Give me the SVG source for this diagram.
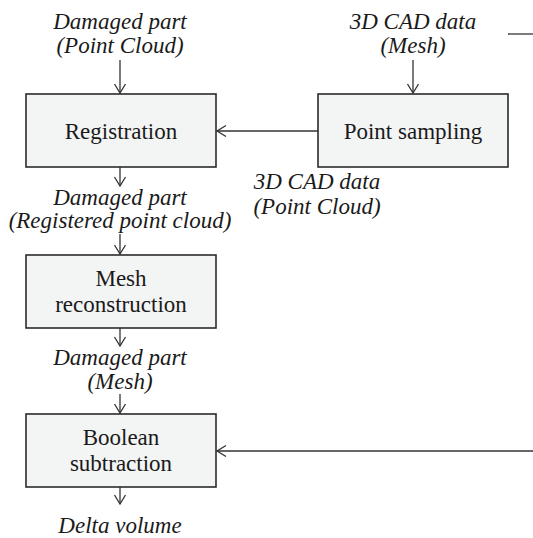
<svg xmlns="http://www.w3.org/2000/svg" width="533" height="538" viewBox="0 0 533 538">
<style>
.box{fill:#f3f4f4;stroke:#2b2b2b;stroke-width:1.6}
text{font-family:'Liberation Serif','Times New Roman',serif;font-size:23px;fill:#1a1a1a;text-anchor:middle}
.i{font-style:italic}
.c{stroke:#333;stroke-width:1.3;fill:none}
</style>
<defs>
<marker id="ah" markerUnits="userSpaceOnUse" markerWidth="20" markerHeight="20" refX="0" refY="0" viewBox="-10 -10 20 20" orient="auto" overflow="visible">
<path d="M-9,-5.5 L0,0 L-9,5.5" fill="none" stroke="#333" stroke-width="1.3"/>
</marker>
</defs>
<rect width="533" height="538" fill="#fff"/>
<g id="connectors">
<line class="c" x1="120" y1="60" x2="120" y2="93" marker-end="url(#ah)"/>
<line class="c" x1="413" y1="60" x2="413" y2="93" marker-end="url(#ah)"/>
<line class="c" x1="318" y1="131" x2="217" y2="131" marker-end="url(#ah)"/>
<line class="c" x1="120" y1="167" x2="120" y2="186" marker-end="url(#ah)"/>
<line class="c" x1="120" y1="234" x2="120" y2="254" marker-end="url(#ah)"/>
<line class="c" x1="120" y1="328" x2="120" y2="346" marker-end="url(#ah)"/>
<line class="c" x1="120" y1="394" x2="120" y2="413" marker-end="url(#ah)"/>
<line class="c" x1="533" y1="451" x2="217" y2="451" marker-end="url(#ah)"/>
<line class="c" x1="120" y1="487" x2="120" y2="504" marker-end="url(#ah)"/>
<line class="c" x1="508" y1="34" x2="533" y2="34"/>
</g>
<g id="label-damaged-pc">
<text class="i" x="120" y="29">Damaged part</text>
<text class="i" x="120" y="53">(Point Cloud)</text>
</g>
<g id="label-cad-mesh">
<text class="i" x="413" y="29">3D CAD data</text>
<text class="i" x="413" y="53">(Mesh)</text>
</g>
<g id="registration">
<rect class="box" x="26" y="94" width="190" height="73"/>
<text x="121" y="139">Registration</text>
</g>
<g id="point-sampling">
<rect class="box" x="318" y="94" width="190" height="73"/>
<text x="413" y="139">Point sampling</text>
</g>
<g id="label-cad-pc">
<text class="i" x="317" y="189">3D CAD data</text>
<text class="i" x="317" y="214">(Point Cloud)</text>
</g>
<g id="label-damaged-reg">
<text class="i" x="120" y="205">Damaged part</text>
<text class="i" x="120" y="228">(Registered point cloud)</text>
</g>
<g id="mesh-reconstruction">
<rect class="box" x="26" y="255" width="190" height="73"/>
<text x="121" y="286">Mesh</text>
<text x="121" y="312">reconstruction</text>
</g>
<g id="label-damaged-mesh">
<text class="i" x="120" y="365">Damaged part</text>
<text class="i" x="120" y="389">(Mesh)</text>
</g>
<g id="boolean-subtraction">
<rect class="box" x="26" y="414" width="190" height="73"/>
<text x="121" y="445">Boolean</text>
<text x="121" y="471">subtraction</text>
</g>
<g id="label-delta">
<text class="i" x="120" y="533">Delta volume</text>
</g>
</svg>
